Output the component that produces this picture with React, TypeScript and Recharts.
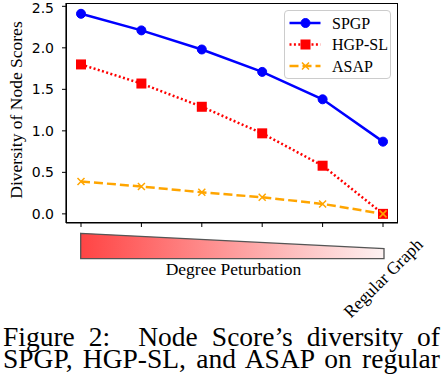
import { LineChart, Line, XAxis, YAxis, Legend } from 'recharts'

// x positions: increasing degree perturbation, last one is the regular graph
const stages = ['', '', '', '', '', 'Regular Graph']
const spgp = [2.41, 2.21, 1.98, 1.71, 1.38, 0.87]
const hgpSl = [1.8, 1.57, 1.29, 0.97, 0.58, 0.0]
const asap = [0.39, 0.33, 0.26, 0.2, 0.12, 0.0]
const yTicks = [0, 0.5, 1, 1.5, 2, 2.5]

const data = stages.map((_, i) => ({ idx: i, spgp: spgp[i], hgpSl: hgpSl[i], asap: asap[i] }))

const SERIF = '"Liberation Serif", "Times New Roman", serif'
const SANS = '"DejaVu Sans", sans-serif'

const BLUE = '#0000ff'
const RED = '#ff0000'
const ORANGE = '#ffa500'

function circleMark(cx: number, cy: number, key?: string) {
  return <circle key={key} cx={cx} cy={cy} r={4.5} fill={BLUE} stroke={BLUE} strokeWidth={1} />
}
function squareMark(cx: number, cy: number, key?: string) {
  return <rect key={key} x={cx - 5} y={cy - 5} width={10} height={10} fill={RED} />
}
function crossMark(cx: number, cy: number, key?: string) {
  const s = 3.5
  return (
    <path
      key={key}
      d={`M${cx - s},${cy - s}L${cx + s},${cy + s}M${cx - s},${cy + s}L${cx + s},${cy - s}`}
      stroke={ORANGE}
      strokeWidth={1.5}
      fill="none"
    />
  )
}

const SERIES = [
  { key: 'spgp', name: 'SPGP', color: BLUE, dash: undefined as string | undefined, mark: circleMark },
  { key: 'hgpSl', name: 'HGP-SL', color: RED, dash: '2 2.4', mark: squareMark },
  { key: 'asap', name: 'ASAP', color: ORANGE, dash: '9 4', mark: crossMark },
]

function LegendBox() {
  return (
    <div
      style={{
        width: 107,
        height: 69,
        border: '1px solid #cccccc',
        borderRadius: 4,
        background: 'rgba(255,255,255,0.85)',
        boxSizing: 'border-box',
        fontFamily: SERIF,
      }}
    >
      <svg width={105} height={67} style={{ display: 'block' }}>
        {SERIES.map((s, i) => {
          const y = 12 + i * 21.5
          return (
            <g key={s.key}>
              <line x1={4.5} x2={35.5} y1={y} y2={y} stroke={s.color} strokeWidth={2.5} strokeDasharray={s.dash} />
              {s.mark(20.5, y)}
              <text x={47} y={y + 5.5} style={{ fontFamily: SERIF, fontSize: 16 }} fill="#000">
                {s.name}
              </text>
            </g>
          )
        })}
      </svg>
    </div>
  )
}

function StageTick(props: any) {
  const { x, y, payload } = props
  const label = stages[payload.value]
  if (!label) return <g />
  return (
    <text
      transform={`translate(${x},${y + 49}) rotate(-45)`}
      textAnchor="middle"
      dominantBaseline="central"
      style={{ fontFamily: SERIF, fontSize: 17.5 }}
      fill="#000"
    >
      {label}
    </text>
  )
}

const captionLine: React.CSSProperties = {
  position: 'absolute',
  left: 3,
  width: 437,
  fontFamily: SERIF,
  fontSize: 27.5,
  lineHeight: '22px',
  textAlign: 'justify',
  textAlignLast: 'justify',
  color: '#000',
}

export default function App() {
  return (
    <div style={{ position: 'absolute', left: 0, top: 0, width: 442, height: 382, background: '#fff', overflow: 'hidden' }}>
      <svg width={442} height={382} style={{ position: 'absolute', left: 0, top: 0 }}>
        <defs>
          <linearGradient id="pert" x1="0" x2="1" y1="0" y2="0">
            <stop offset="0%" stopColor="#ff4444" />
            <stop offset="100%" stopColor="#fdf2f2" />
          </linearGradient>
        </defs>
        <polygon points="80.7,233.3 384,248.7 384,258.7 80.7,258.7" fill="url(#pert)" stroke="#555" strokeWidth={1.3} />
        <text x={233.5} y={275} textAnchor="middle" style={{ fontFamily: SERIF, fontSize: 17.5 }} fill="#000">
          Degree Peturbation
        </text>
      </svg>
      <div style={{ ...captionLine, top: 326 }}>Figure 2:&nbsp; Node Score’s diversity of</div>
      <div style={{ ...captionLine, top: 348 }}>SPGP, HGP-SL, and ASAP on regular</div>
      <div style={{ position: 'absolute', left: 0, top: 0 }}>
        <LineChart width={442} height={382} data={data} margin={{ top: 3, right: 44, bottom: 99, left: 0 }}>
          <XAxis
            dataKey="idx"
            type="category"
            padding={{ left: 15, right: 15 }}
            height={60}
            axisLine={{ stroke: '#000', strokeWidth: 1.2 }}
            tickLine={{ stroke: '#000' }}
            tickSize={4}
            tickMargin={2}
            tick={StageTick}
            interval={0}
          />
          <YAxis
            type="number"
            domain={[-0.11, 2.54]}
            ticks={yTicks}
            width={66}
            allowDataOverflow
            tickFormatter={(v: number) => v.toFixed(1)}
            axisLine={{ stroke: '#000', strokeWidth: 1.2 }}
            tickLine={{ stroke: '#000' }}
            tickSize={4}
            tickMargin={8}
            tick={{ fontFamily: SANS, fontSize: 14, fill: '#000' }}
            label={{
              content: () => (
                <text
                  x={22}
                  y={110}
                  transform="rotate(-90, 22, 110)"
                  textAnchor="middle"
                  style={{ fontFamily: SERIF, fontSize: 17.5 }}
                  fill="#000"
                >
                  Diversity of Node Scores
                </text>
              ),
            }}
          />
          <Legend
            layout="vertical"
            align="center"
            verticalAlign="middle"
            wrapperStyle={{ left: 284, top: 10, width: 107, height: 69 }}
            content={() => <LegendBox />}
          />
          {SERIES.map(s => (
            <Line
              key={s.key}
              dataKey={s.key}
              name={s.name}
              type="linear"
              stroke={s.color}
              strokeWidth={2.5}
              strokeDasharray={s.dash}
              dot={(p: any) => s.mark(p.cx, p.cy, `${s.key}-${p.index}`)}
              activeDot={false}
              isAnimationActive={false}
            />
          ))}
        </LineChart>
      </div>
      {/* plot frame */}
      <div
        style={{
          position: 'absolute',
          left: 66,
          top: 3,
          width: 332,
          height: 220,
          border: '1.2px solid #000',
          boxSizing: 'border-box',
          pointerEvents: 'none',
        }}
      />
    </div>
  )
}
